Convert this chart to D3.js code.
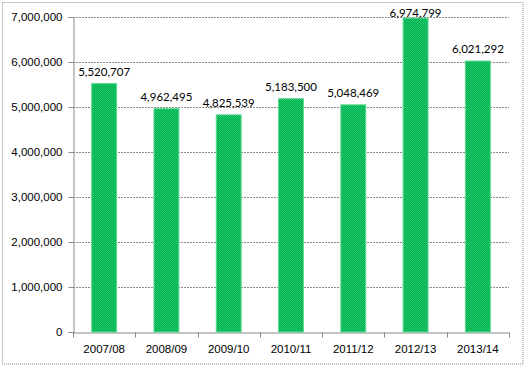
<!DOCTYPE html>
<html>
<head>
<meta charset="UTF-8">
<title>Chart</title>
<style>
  body { margin: 0; background: #fff; }
  svg { display: block; font-family: Lato, "Open Sans", sans-serif; }
</style>
</head>
<body>
<div id="graph-container"></div>
<script src="https://cdnjs.cloudflare.com/ajax/libs/d3/7.8.5/d3.min.js"></script>
<script>
  let categories = ["2007/08", "2008/09", "2009/10", "2010/11", "2011/12", "2012/13", "2013/14"];
  let values = [5520707, 4962495, 4825539, 5183500, 5048469, 6974799, 6021292];
  let yTicks = [0, 1000000, 2000000, 3000000, 4000000, 5000000, 6000000, 7000000];

  let W = 526, H = 367;
  let margin = { top: 17, right: 17, bottom: 35, left: 73 },
      width = W - margin.left - margin.right,
      height = H - margin.top - margin.bottom;

  let svg = d3.select("#graph-container").append("svg")
      .attr("width", W)
      .attr("height", H);

  // bar fill pattern (dithered green)
  let pat = svg.append("defs").append("pattern")
      .attr("id", "dots")
      .attr("width", 2).attr("height", 2)
      .attr("patternUnits", "userSpaceOnUse");
  pat.append("rect").attr("width", 2).attr("height", 2).attr("fill", "#00B050");
  pat.append("rect").attr("width", 1).attr("height", 1).attr("fill", "#22C86A");
  pat.append("rect").attr("x", 1).attr("y", 1).attr("width", 1).attr("height", 1).attr("fill", "#22C86A");

  // outer border
  svg.append("rect")
      .attr("x", 2.5).attr("y", 2.5)
      .attr("width", W - 5.5).attr("height", H - 5.5)
      .attr("fill", "none")
      .attr("stroke", "#8c8c8c")
      .attr("stroke-dasharray", "1,1");

  let g = svg.append("g")
      .attr("transform", "translate(" + margin.left + "," + margin.top + ")");

  let x = d3.scaleBand().domain(categories).range([0, width]).paddingInner(0.6).paddingOuter(0.3);
  let xb = d3.scaleBand().domain(categories).range([0, width]);
  let y = d3.scaleLinear().domain([0, 7000000]).range([height, 0]);

  // gridlines
  g.selectAll(".grid")
      .data(yTicks.filter(d => d > 0))
      .enter().append("line")
      .attr("x1", 0).attr("x2", width)
      .attr("y1", d => Math.round(y(d)) + 0.5)
      .attr("y2", d => Math.round(y(d)) + 0.5)
      .attr("stroke", "#8a8a8a")
      .attr("stroke-dasharray", "2,1");

  // y axis
  let yAxis = g.append("g")
      .attr("transform", "translate(0.5,0)")
      .call(d3.axisLeft(y).tickValues(yTicks).tickSize(5).tickPadding(6).tickFormat(d3.format(",")));
  yAxis.select(".domain").attr("stroke", "#8a8a8a");
  yAxis.selectAll(".tick line").attr("stroke", "#8a8a8a");
  yAxis.selectAll("text").attr("font-size", 11.5).attr("fill", "#000");

  // x axis
  let xAxis = g.append("g")
      .attr("transform", "translate(0," + (height + 0.5) + ")")
      .call(d3.axisBottom(xb).tickSize(0).tickPadding(12));
  xAxis.select(".domain").attr("stroke", "#8a8a8a");
  xAxis.selectAll("text").attr("font-size", 11.5).attr("fill", "#000");
  xAxis.selectAll(".bt")
      .data(d3.range(categories.length + 1))
      .enter().append("line")
      .attr("class", "bt")
      .attr("x1", i => Math.round(i * xb.step()) + 0.5)
      .attr("x2", i => Math.round(i * xb.step()) + 0.5)
      .attr("y1", 0).attr("y2", 5)
      .attr("stroke", "#8a8a8a");

  // bars
  g.selectAll(".bar")
      .data(values)
      .enter().append("rect")
      .attr("x", (d, i) => x(categories[i]))
      .attr("y", d => y(d))
      .attr("width", x.bandwidth())
      .attr("height", d => height - y(d))
      .attr("fill", "url(#dots)")
      .attr("stroke", "#5ed991")
      .attr("stroke-width", 1);

  // labels
  g.selectAll(".lbl")
      .data(values)
      .enter().append("text")
      .attr("x", (d, i) => x(categories[i]) + x.bandwidth() / 2)
      .attr("y", d => Math.max(y(d) - 8, 0))
      .attr("text-anchor", "middle")
      .attr("font-size", 11.5)
      .attr("fill", "#000")
      .text(d => d3.format(",")(d));
</script>
</body>
</html>
